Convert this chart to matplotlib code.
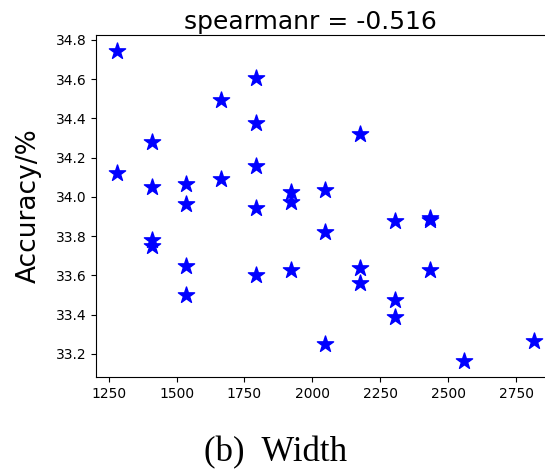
import matplotlib
matplotlib.use('Agg')
import matplotlib.pyplot as plt

# width of each model and its accuracy
width = [1280, 1280,
         1408, 1408, 1408, 1408,
         1536, 1536, 1536, 1536,
         1664, 1664,
         1792, 1792, 1792, 1792, 1792,
         1920, 1920, 1920,
         2048, 2048, 2048,
         2176, 2176, 2176,
         2304, 2304, 2304,
         2432, 2432, 2432,
         2560,
         2816]
accuracy = [34.745, 34.122,
            34.278, 34.048, 33.779, 33.750,
            34.067, 33.963, 33.646, 33.501,
            34.494, 34.092,
            34.604, 34.376, 34.155, 33.942, 33.600,
            34.026, 33.973, 33.629,
            34.034, 33.822, 33.250,
            34.322, 33.639, 33.561,
            33.877, 33.472, 33.390,
            33.890, 33.884, 33.629,
            33.161,
            33.263]

fig = plt.figure(figsize=(5.45, 4.71), dpi=100)
ax = fig.add_axes([0.176, 0.1996, 0.842, 0.726])

ax.scatter(width, accuracy, marker='*', c='blue', s=150)
ax.set_yticks([33.2, 33.4, 33.6, 33.8, 34.0, 34.2, 34.4, 34.6, 34.8])
ax.set_xticks([1250, 1500, 1750, 2000, 2250, 2500, 2750])
ax.tick_params(labelsize=10)
ax.set_ylabel('Accuracy/%', fontsize=19)
ax.yaxis.set_label_coords(-0.118, 0.5)
ax.set_title('spearmanr = -0.516', fontsize=18, x=0.468, pad=4)

fig.text(0.505, 0.02, '(b)  Width', fontsize=25, family='Liberation Serif', ha='center')

fig.savefig('out.png', dpi=100)
